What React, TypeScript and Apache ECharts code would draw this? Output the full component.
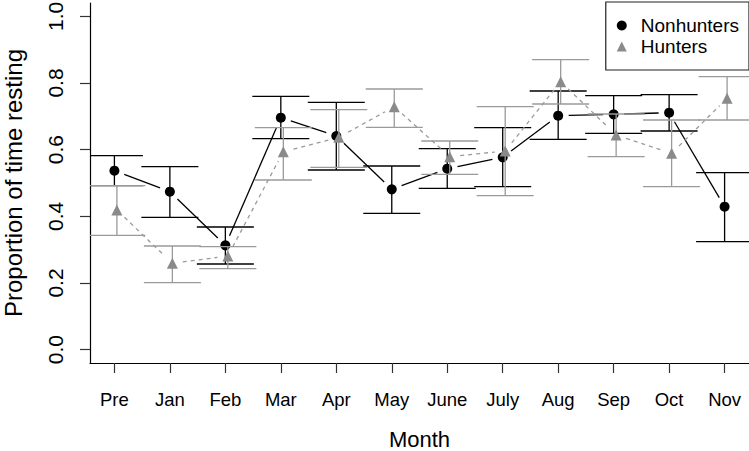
import React, { useEffect, useRef } from "react";
import * as echarts from "echarts";

const months = ["Pre", "Jan", "Feb", "Mar", "Apr", "May", "June", "July", "Aug", "Sep", "Oct", "Nov"];
const nonMean = [0.537, 0.474, 0.313, 0.696, 0.641, 0.481, 0.543, 0.577, 0.702, 0.706, 0.711, 0.429];
const nonLow = [0.492, 0.397, 0.257, 0.633, 0.539, 0.409, 0.484, 0.489, 0.631, 0.649, 0.656, 0.324];
const nonHigh = [0.582, 0.549, 0.368, 0.760, 0.742, 0.551, 0.603, 0.666, 0.776, 0.762, 0.765, 0.531];
const huntMean = [0.419, 0.259, 0.281, 0.594, 0.637, 0.729, 0.579, 0.596, 0.804, 0.644, 0.589, 0.754];
const huntLow = [0.343, 0.201, 0.243, 0.509, 0.547, 0.667, 0.526, 0.462, 0.737, 0.579, 0.489, 0.689];
const huntHigh = [0.492, 0.311, 0.309, 0.666, 0.720, 0.782, 0.626, 0.729, 0.870, 0.707, 0.689, 0.819];
const yTicks = [0, 0.2, 0.4, 0.6, 0.8, 1.0];
const xTicks = months.map((_, i) => i + 1);
const huntOffset = 0.045;

const FONT = "Liberation Sans, Arial, Helvetica, sans-serif";
const BLACK = "#000000";
const GRAY_PT = "#8a8a8a";
const GRAY_BAR = "#9a9a9a";

function errorSeries(name: string, xs: number[], lo: number[], hi: number[], color: string, z: number) {
  return {
    type: "custom",
    name,
    z,
    clip: true,
    silent: true,
    data: xs.map((x, i) => [x, lo[i], hi[i]]),
    encode: { x: 0, y: [1, 2] },
    renderItem: (_p: any, api: any) => {
      const x = api.value(0);
      const top = api.coord([x, api.value(2)]);
      const bot = api.coord([x, api.value(1)]);
      const hw = 28.5;
      const style = { stroke: color, lineWidth: 1.3 };
      return {
        type: "group",
        children: [
          { type: "line", shape: { x1: top[0], y1: top[1], x2: bot[0], y2: bot[1] }, style },
          { type: "line", shape: { x1: top[0] - hw, y1: top[1], x2: top[0] + hw, y2: top[1] }, style },
          { type: "line", shape: { x1: bot[0] - hw, y1: bot[1], x2: bot[0] + hw, y2: bot[1] }, style },
        ],
      };
    },
  };
}

function segmentSeries(name: string, xs: number[], ys: number[], color: string, dash: number[] | null, z: number) {
  const data: number[][] = [];
  for (let i = 0; i < xs.length - 1; i++) data.push([xs[i], ys[i], xs[i + 1], ys[i + 1]]);
  return {
    type: "custom",
    name,
    z,
    clip: true,
    silent: true,
    data,
    encode: { x: [0, 2], y: [1, 3] },
    renderItem: (_p: any, api: any) => {
      const a = api.coord([api.value(0), api.value(1)]);
      const b = api.coord([api.value(2), api.value(3)]);
      const dx = b[0] - a[0];
      const dy = b[1] - a[1];
      const len = Math.sqrt(dx * dx + dy * dy);
      const gap = 10.5;
      if (len <= gap * 2) return null;
      const ux = dx / len;
      const uy = dy / len;
      return {
        type: "line",
        shape: { x1: a[0] + ux * gap, y1: a[1] + uy * gap, x2: b[0] - ux * gap, y2: b[1] - uy * gap },
        style: { stroke: color, lineWidth: 1.3, lineDash: dash || undefined },
      };
    },
  };
}

export default function App() {
  const ref = useRef<HTMLDivElement>(null);
  useEffect(() => {
    if (!ref.current) return;
    const chart = echarts.init(ref.current, undefined, { renderer: "svg" });
    const nonX = xTicks.slice();
    const huntX = xTicks.map((x) => x + huntOffset);
    chart.setOption({
      animation: false,
      backgroundColor: "#ffffff",
      textStyle: { fontFamily: FONT },
      grid: { left: 90, right: 0, top: 3, bottom: 88, containLabel: false, outerBoundsMode: "none" },
      legend: {
        data: [
          { name: "Nonhunters", icon: "circle" },
          { name: "Hunters", icon: "triangle" },
        ],
        orient: "vertical",
        right: 0,
        top: 2,
        padding: [14, 10, 14, 11],
        itemWidth: 10,
        itemHeight: 10,
        itemGap: 2,
        borderColor: "#222",
        borderWidth: 1.2,
        borderRadius: 0,
        textStyle: { fontSize: 19, color: "#000", fontFamily: FONT, padding: [0, 0, 0, 9] },
      },
      xAxis: {
        type: "value",
        min: 0.56,
        max: 12.44,
        splitLine: { show: false },
        axisLine: { show: true, onZero: false, lineStyle: { color: BLACK, width: 1.2 } },
        axisTick: { show: true, inside: false, length: 10, customValues: xTicks, lineStyle: { color: "#333", width: 1.2 } },
        axisLabel: {
          customValues: xTicks,
          formatter: (v: number) => months[Math.round(v) - 1] || "",
          fontSize: 18.5,
          color: "#000",
          margin: 27,
          fontFamily: FONT,
        },
        name: "Month",
        nameLocation: "middle",
        nameGap: 65,
        nameTextStyle: { fontSize: 22, color: "#000", fontFamily: FONT },
      },
      yAxis: {
        type: "value",
        min: -0.04,
        max: 1.04,
        splitLine: { show: false },
        axisLine: { show: true, onZero: false, lineStyle: { color: BLACK, width: 1.2 } },
        axisTick: { show: true, inside: false, length: 10, customValues: yTicks, lineStyle: { color: "#333", width: 1.2 } },
        axisLabel: {
          customValues: yTicks,
          formatter: (v: number) => v.toFixed(1),
          rotate: 90,
          fontSize: 21,
          color: "#000",
          margin: 24,
          fontFamily: FONT,
        },
        name: "Proportion of time resting",
        nameLocation: "middle",
        nameRotate: 90,
        nameGap: 65,
        nameTextStyle: { fontSize: 24, color: "#000", fontFamily: FONT },
      },
      series: [
        errorSeries("nhErr", nonX, nonLow, nonHigh, BLACK, 1),
        segmentSeries("nhLine", nonX, nonMean, BLACK, null, 2),
        {
          type: "scatter",
          name: "Nonhunters",
          z: 3,
          symbol: "circle",
          symbolSize: 10,
          itemStyle: { color: BLACK, opacity: 1 },
          data: nonX.map((x, i) => [x, nonMean[i]]),
        },
        errorSeries("hErr", huntX, huntLow, huntHigh, GRAY_BAR, 4),
        segmentSeries("hLine", huntX, huntMean, GRAY_BAR, [4, 4], 5),
        {
          type: "scatter",
          name: "Hunters",
          z: 6,
          symbol: "triangle",
          symbolSize: 11,
          itemStyle: { color: GRAY_PT, opacity: 1 },
          data: huntX.map((x, i) => [x, huntMean[i]]),
        },
      ],
    });
    return () => chart.dispose();
  }, []);
  return <div ref={ref} style={{ position: "absolute", left: 0, top: 0, width: 749, height: 451 }} />;
}
